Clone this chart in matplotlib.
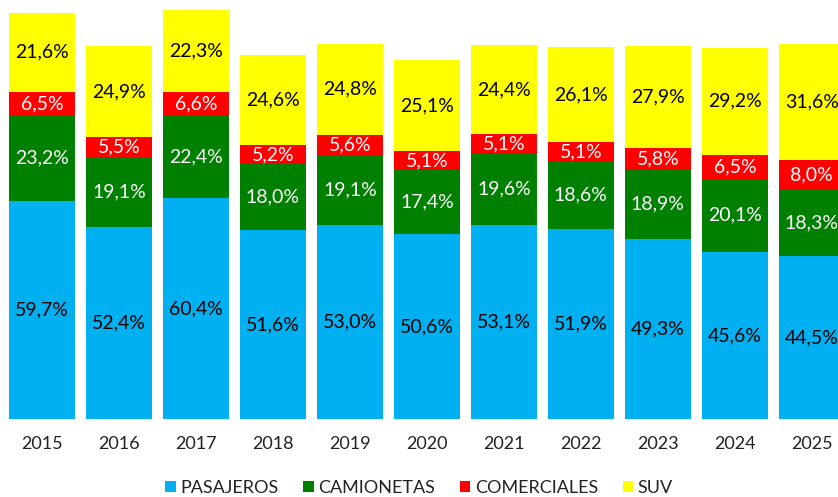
import matplotlib.pyplot as plt
import numpy as np

years = ['2015', '2016', '2017', '2018', '2019', '2020', '2021', '2022', '2023', '2024', '2025']
pasajeros = [59.7, 52.4, 60.4, 51.6, 53.0, 50.6, 53.1, 51.9, 49.3, 45.6, 44.5]
camionetas = [23.2, 19.1, 22.4, 18.0, 19.1, 17.4, 19.6, 18.6, 18.9, 20.1, 18.3]
comerciales = [6.5, 5.5, 6.6, 5.2, 5.6, 5.1, 5.1, 5.1, 5.8, 6.5, 8.0]
suv = [21.6, 24.9, 22.3, 24.6, 24.8, 25.1, 24.4, 26.1, 27.9, 29.2, 31.6]

series = [
    ('PASAJEROS', pasajeros, '#00B0F0', 'black'),
    ('CAMIONETAS', camionetas, '#008000', 'white'),
    ('COMERCIALES', comerciales, '#FF0000', 'white'),
    ('SUV', suv, '#FFFF00', 'black'),
]

plt.rcParams['font.family'] = ['Lato', 'DejaVu Sans']

fig = plt.figure(figsize=(8.38, 4.97), dpi=100)
ax = fig.add_axes([0, 0.157, 1, 0.843])

x = np.arange(len(years))
bottom = np.zeros(len(years))
for name, vals, color, tcolor in series:
    vals = np.array(vals)
    ax.bar(x, vals, 0.857, bottom=bottom, color=color, label=name)
    for xi, b, v in zip(x, bottom, vals):
        ax.text(xi, b + v / 2, f'{v:.1f}%'.replace('.', ','), ha='center', va='center',
                color=tcolor, fontsize=14)
    bottom += vals

ax.set_xlim(-0.545, 10.34)
ax.set_ylim(0, 114.5)
ax.set_yticks([])
ax.set_xticks(x)
ax.set_xticklabels(years, fontsize=13, color='#222222')
ax.tick_params(axis='x', length=0, pad=12)
for s in ax.spines.values():
    s.set_visible(False)

fig.legend(loc='lower center', ncol=4, frameon=False, fontsize=13,
           bbox_to_anchor=(0.5, -0.03), handlelength=0.6, handleheight=0.6,
           handletextpad=0.25, columnspacing=1.35, labelcolor='#222222')

fig.savefig('out.png', dpi=100)
